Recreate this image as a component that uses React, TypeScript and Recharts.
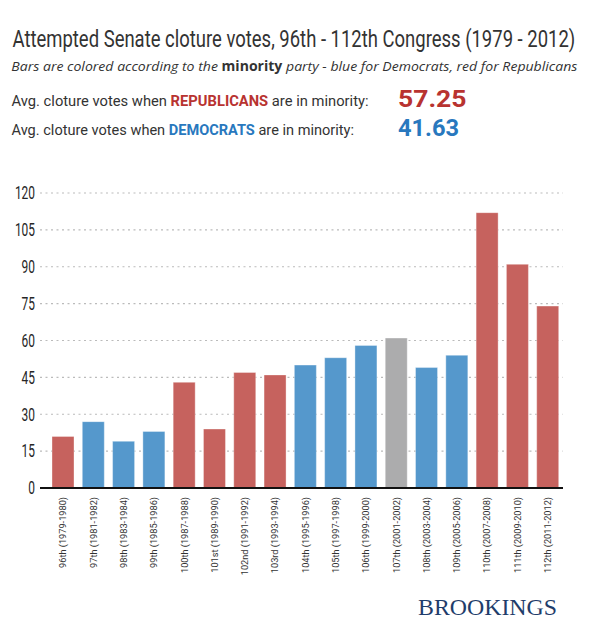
import React, { useLayoutEffect, useRef, useState } from 'react'
import { BarChart, Bar, Cell, XAxis, YAxis, CartesianGrid } from 'recharts'

const CONGRESSES = [
  '96th (1979-1980)',
  '97th (1981-1982)',
  '98th (1983-1984)',
  '99th (1985-1986)',
  '100th (1987-1988)',
  '101st (1989-1990)',
  '102nd (1991-1992)',
  '103rd (1993-1994)',
  '104th (1995-1996)',
  '105th (1997-1998)',
  '106th (1999-2000)',
  '107th (2001-2002)',
  '108th (2003-2004)',
  '109th (2005-2006)',
  '110th (2007-2008)',
  '111th (2009-2010)',
  '112th (2011-2012)',
]

const CLOTURE_VOTES = [21, 27, 19, 23, 43, 24, 47, 46, 50, 53, 58, 61, 49, 54, 112, 91, 74]

// minority party per congress: R, D, or S (split control)
const MINORITY = ['R', 'D', 'D', 'D', 'R', 'R', 'R', 'R', 'D', 'D', 'D', 'S', 'D', 'D', 'R', 'R', 'R']

const Y_TICKS = [0, 15, 30, 45, 60, 75, 90, 105, 120]

const PARTY_COLOR: Record<string, string> = {
  R: '#c6625e',
  D: '#5598cc',
  S: '#acacad',
}

const data = CONGRESSES.map((name, i) => ({
  name,
  votes: CLOTURE_VOTES[i],
  minority: MINORITY[i],
}))

function YTick(props: any) {
  const { y, payload } = props
  const label = String(payload.value)
  return (
    <text
      x={35}
      y={y}
      dy="0.36em"
      textAnchor="end"
      fontFamily="Roboto"
      fontSize={17.5}
      fill="#262626"
      textLength={label.length * 6.7}
      lengthAdjust="spacingAndGlyphs"
    >
      {label}
    </text>
  )
}

function XTick(props: any) {
  const { x, payload } = props
  return (
    <g transform={`translate(${x},497)`}>
      <text
        transform="rotate(-90)"
        textAnchor="end"
        dy="0.35em"
        fontFamily="Roboto"
        fontSize={9.2}
        fill="#333"
      >
        {payload.value}
      </text>
    </g>
  )
}

// squeezes a line of text horizontally to a target width (condensed look)
function FitText({ x, y, width, children, ...rest }: any) {
  const ref = useRef<SVGTextElement>(null)
  const [sx, setSx] = useState(1)
  useLayoutEffect(() => {
    if (ref.current) {
      const w = ref.current.getComputedTextLength()
      if (w > 0) setSx(width / w)
    }
  }, [width])
  return (
    <text
      ref={ref}
      x={0}
      y={0}
      transform={`translate(${x},${y}) scale(${sx},1)`}
      {...rest}
    >
      {children}
    </text>
  )
}

export default function App() {
  return (
    <div
      style={{
        position: 'absolute',
        left: 0,
        top: 0,
        width: 599,
        height: 629,
        background: '#fff',
      }}
    >
      <BarChart
        width={599}
        height={629}
        data={data}
        margin={{ top: 193, right: 36, bottom: 0, left: 0 }}
      >
        <CartesianGrid
          vertical={false}
          stroke="#bbbbbb"
          strokeDasharray="2 3.5"
          strokeWidth={1.2}
        />
        <XAxis
          dataKey="name"
          interval={0}
          height={141}
          tickLine={false}
          axisLine={{ stroke: '#111', strokeWidth: 2 }}
          padding={{ left: 8, right: 0 }}
          tick={<XTick />}
        />
        <YAxis
          width={40}
          domain={[0, 120]}
          ticks={Y_TICKS}
          axisLine={false}
          tickLine={false}
          tick={<YTick />}
        />
        <Bar
          dataKey="votes"
          barSize={22}
          isAnimationActive={false}
          stroke="#ffffff"
          strokeOpacity={0.35}
          strokeWidth={1}
        >
          {data.map((d) => (
            <Cell key={d.name} fill={PARTY_COLOR[d.minority]} />
          ))}
        </Bar>
      </BarChart>

      <svg
        width={599}
        height={629}
        style={{ position: 'absolute', left: 0, top: 0, pointerEvents: 'none' }}
      >
        <FitText
          x={12.5}
          y={47}
          width={563}
          fontFamily="Roboto"
          fontSize={24}
          fill="#333"
        >
          Attempted Senate cloture votes, 96th - 112th Congress (1979 - 2012)
        </FitText>
        <text
          x={11.3}
          y={70.7}
          fontFamily="Open Sans"
          fontStyle="italic"
          fontSize={13.5}
          fill="#333"
          textLength={566}
          lengthAdjust="spacingAndGlyphs"
        >
          Bars are colored according to the{' '}
          <tspan fontWeight="bold" fontStyle="normal">minority</tspan> party - blue for
          Democrats, red for Republicans
        </text>
        <text
          x={11.5}
          y={106}
          fontFamily="Roboto"
          fontSize={14}
          fill="#333"
          textLength={357}
          lengthAdjust="spacingAndGlyphs"
        >
          Avg. cloture votes when{' '}
          <tspan fontWeight="bold" fill="#b83330">REPUBLICANS</tspan> are in minority:
        </text>
        <text
          x={11.5}
          y={135.3}
          fontFamily="Roboto"
          fontSize={14}
          fill="#333"
          textLength={342.5}
          lengthAdjust="spacingAndGlyphs"
        >
          Avg. cloture votes when{' '}
          <tspan fontWeight="bold" fill="#2878be">DEMOCRATS</tspan> are in minority:
        </text>
        <text
          x={398}
          y={107.3}
          fontFamily="Roboto"
          fontWeight="bold"
          fontSize={23}
          fill="#b83330"
          textLength={68.5}
          lengthAdjust="spacingAndGlyphs"
        >
          57.25
        </text>
        <text
          x={398}
          y={135.5}
          fontFamily="Roboto"
          fontWeight="bold"
          fontSize={23}
          fill="#2878be"
          textLength={61}
          lengthAdjust="spacingAndGlyphs"
        >
          41.63
        </text>
        <text
          x={418}
          y={614.5}
          fontFamily="Liberation Serif"
          fontSize={24}
          fill="#1f3d6b"
          textLength={139}
          lengthAdjust="spacingAndGlyphs"
        >
          BROOKINGS
        </text>
      </svg>
    </div>
  )
}
